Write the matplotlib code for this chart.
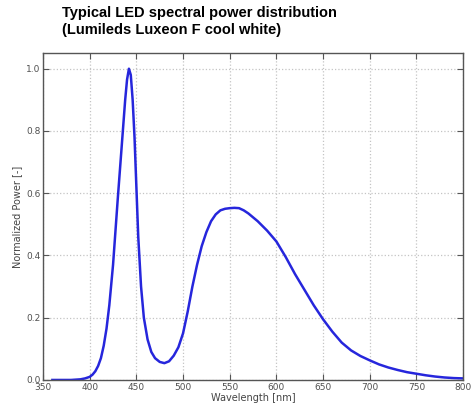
import matplotlib
matplotlib.use('Agg')
from matplotlib import pyplot as plt
from matplotlib.ticker import MultipleLocator, FormatStrFormatter

# spectrum (wavelength in nm, normalized power)
wavelength = [360, 370, 380, 390, 395, 400, 403, 406, 409, 412, 415, 418, 421, 425, 430, 435,
              438, 440, 442, 444, 446, 448, 450, 452, 455, 458, 462, 466, 470, 475,
              480, 485, 490, 495, 500, 505, 510, 515, 520, 525, 530, 535, 540,
              545, 550, 555, 560, 565, 570, 580, 590, 600, 610, 620, 630, 640,
              650, 660, 670, 680, 690, 700, 710, 720, 730, 740, 750, 760, 770,
              780, 790, 800]
power = [0.0, 0.0, 0.0, 0.002, 0.005, 0.01, 0.017, 0.028, 0.045, 0.07, 0.11, 0.165, 0.24,
         0.37, 0.58, 0.78, 0.9, 0.965, 1.0, 0.98, 0.9, 0.78, 0.62, 0.46, 0.3, 0.2, 0.13,
         0.09, 0.07, 0.058, 0.054, 0.06, 0.078, 0.105, 0.15, 0.22, 0.3, 0.37, 0.43, 0.475,
         0.51, 0.532, 0.545, 0.55, 0.552, 0.553, 0.552, 0.545, 0.535, 0.51, 0.48, 0.445,
         0.395, 0.34, 0.29, 0.24, 0.195, 0.155, 0.12, 0.095, 0.077, 0.063, 0.05, 0.04,
         0.032, 0.025, 0.02, 0.015, 0.011, 0.008, 0.006, 0.005]

title_lines = ["Typical LED spectral power distribution",
               "(Lumileds Luxeon F cool white)"]

fig = plt.figure(figsize=(4.73, 4.09), dpi=100)
ax = fig.add_axes([0.091, 0.071, 0.888, 0.799])

ax.plot(wavelength, power, color='#2626dc', lw=1.8)

ax.set_xlim(350, 800)
ax.set_ylim(0, 1.05)
ax.xaxis.set_major_locator(MultipleLocator(50))
ax.yaxis.set_major_locator(MultipleLocator(0.2))
ax.yaxis.set_major_formatter(FormatStrFormatter('%.1f'))
ax.grid(True, color='#c4c4c4', linestyle=':', lw=0.9)
ax.tick_params(direction='in', top=True, right=True, length=4, width=0.8,
               labelsize=6.5, labelcolor='#505050', color='#555555', pad=2)
for s in ax.spines.values():
    s.set_color('#555555')
    s.set_linewidth(1.0)

ax.set_xlabel('Wavelength [nm]', fontsize=7, color='#444444', labelpad=1)
ax.set_ylabel('Normalized Power [-]', fontsize=7, color='#444444', labelpad=3)

fig.text(0.131, 0.985, "\n".join(title_lines), ha='left', va='top',
         fontsize=10.5, fontweight='bold', family='Liberation Sans',
         linespacing=1.3)

fig.savefig('out.png', dpi=100)
